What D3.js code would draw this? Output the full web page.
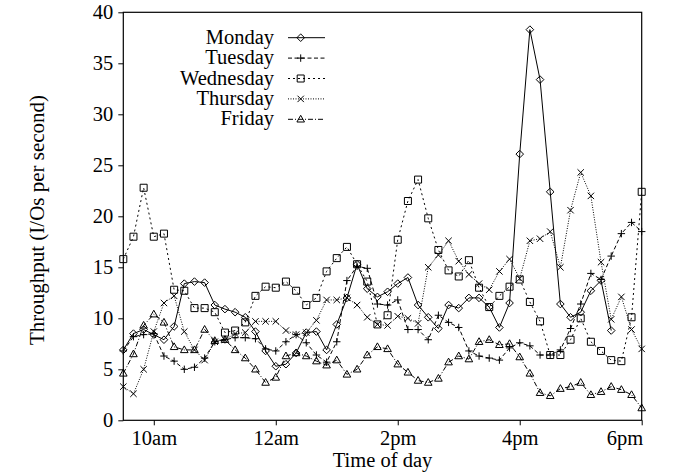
<!DOCTYPE html>
<html lang="en">
<head>
<meta charset="UTF-8"/>
<title>Throughput by time of day</title>
<script src="https://d3js.org/d3.v7.min.js"></script>
<style>
    body { margin: 0; background: #fff; }
    svg text { font-family: "Liberation Serif", "Times New Roman", serif; font-size: 20.5px; fill: #000; }
</style>
</head>
<body>
<script>
    // sample times, every 10 minutes
    var times = ["9:30","9:40","9:50","10:00","10:10","10:20","10:30","10:40","10:50",
        "11:00","11:10","11:20","11:30","11:40","11:50","12:00","12:10","12:20","12:30","12:40","12:50",
        "13:00","13:10","13:20","13:30","13:40","13:50","14:00","14:10","14:20","14:30","14:40","14:50",
        "15:00","15:10","15:20","15:30","15:40","15:50","16:00","16:10","16:20","16:30","16:40","16:50",
        "17:00","17:10","17:20","17:30","17:40","17:50","18:00"];

    var days = ["Monday", "Tuesday", "Wednesday", "Thursday", "Friday"];

    // I/Os per second
    var monday = [6.9,8.5,8.9,8.4,7.9,9.2,13.4,13.6,13.5,11.3,10.9,10.6,10.1,8.7,6.8,5.3,5.5,6.6,8.6,8.7,6.9,
        9.4,12.0,15.3,12.9,12.1,12.6,13.4,14.0,11.3,10.1,9.0,11.3,11.0,12.0,12.0,11.1,9.1,11.5,26.1,38.3,
        33.4,22.4,11.4,10.1,10.6,12.7,13.7,8.8];
    var tuesday = [6.8,8.2,8.4,8.5,6.3,5.8,5.0,5.2,6.1,7.7,7.9,8.1,8.1,8.0,7.0,6.8,7.7,8.4,7.6,6.4,5.7,
        7.7,13.7,15.1,14.9,11.4,11.3,11.8,8.9,8.9,7.9,10.3,9.6,9.1,6.8,6.3,6.1,5.9,7.1,7.6,7.3,
        6.4,6.4,6.9,9.0,11.4,14.4,13.8,16.1,18.3,19.4,18.5];
    var wednesday = [15.8,18.0,22.8,18.0,18.3,12.8,12.7,11.0,11.0,10.6,8.6,8.8,9.6,12.2,13.1,13.0,13.6,12.7,11.3,12.0,14.6,
        15.9,17.0,15.3,13.6,9.4,10.3,17.7,21.5,23.6,19.8,16.7,14.7,14.1,15.7,13.0,11.1,12.2,13.1,13.8,11.6,
        9.7,6.4,6.4,7.9,10.0,7.7,6.8,5.9,5.8,10.1,22.4];
    var thursday = [3.3,2.6,5.0,8.7,11.5,12.2,8.7,6.9,5.9,7.7,7.9,8.5,8.6,9.7,9.7,9.7,8.8,8.4,8.6,9.8,11.8,
        11.8,12.0,11.3,10.1,9.4,9.3,10.2,10.0,9.5,15.0,16.2,17.6,15.6,14.3,13.4,12.8,14.6,15.8,13.9,17.6,
        17.8,18.5,15.0,20.6,24.3,22.0,15.5,9.9,12.1,8.9,7.0];
    var friday = [4.6,6.5,9.3,10.4,9.6,7.2,6.9,6.9,8.9,7.8,7.9,6.9,6.1,5.0,3.7,4.2,6.3,6.6,6.3,5.8,5.4,
        5.9,4.5,5.0,6.4,7.2,7.0,5.5,4.7,3.9,3.7,4.1,5.7,6.3,6.0,7.7,7.9,7.4,7.5,6.2,4.6,
        2.7,2.4,3.1,3.3,3.7,2.5,2.8,3.3,3.0,2.5,1.2];

    var tickHours = [10, 12, 14, 16, 18];
    var tickLabels = ["10am", "12am", "2pm", "4pm", "6pm"];
    var yTicks = [0, 5, 10, 15, 20, 25, 30, 35, 40];

    var values = [monday, tuesday, wednesday, thursday, friday];
    var dashes = ["none", "4,2.5", "2,3", "1,1.5", "5,2,1,2"];
    var markers = ["diamond", "plus", "square", "cross", "triangle"];

    var w = 673, h = 474;
    var plotL = 123.3, plotR = 641.7, plotT = 12.3, plotB = 420.3;

    function hourOf(s) {
        var p = s.split(":");
        return +p[0] + p[1] / 60;
    }

    var xScale = d3.scaleLinear().domain([9.5, 18]).range([plotL, plotR]);
    var yScale = d3.scaleLinear().domain([0, 40]).range([plotB, plotT]);

    // marker shapes, drawn around (0,0)
    function markerPath(type) {
        if (type == "diamond") return "M0,-3.8L3.8,0L0,3.8L-3.8,0Z";
        if (type == "plus") return "M-3.7,0H3.7M0,-3.7V3.7";
        if (type == "square") return "M-3.5,-3.5H3.5V3.5H-3.5Z";
        if (type == "cross") return "M-3.2,-3.2L3.2,3.2M-3.2,3.2L3.2,-3.2";
        return "M0,-4L3.8,2.7H-3.8Z";
    }

    var svg = d3.select("body").append("svg")
        .attr("width", w)
        .attr("height", h);

    // axes
    var xAxis = d3.axisBottom(xScale)
        .tickValues(tickHours)
        .tickFormat(function (d, i) { return tickLabels[i]; })
        .tickSize(5)
        .tickPadding(5);
    var yAxis = d3.axisLeft(yScale)
        .tickValues(yTicks)
        .tickSize(5)
        .tickPadding(5);

    var gx = svg.append("g").attr("transform", "translate(0," + plotB + ")").call(xAxis);
    var gy = svg.append("g").attr("transform", "translate(" + plotL + ",0)").call(yAxis);
    [gx, gy].forEach(function (g) {
        g.select(".domain").remove();
        g.attr("font-size", null).attr("font-family", null);
        g.selectAll("line").attr("stroke", "#000");
    });
    // last label sits inside the right edge
    gx.selectAll(".tick text").filter(function (d) { return d == 18; })
        .attr("text-anchor", "end")
        .attr("x", 1);

    // frame
    svg.append("rect")
        .attr("x", plotL).attr("y", plotT)
        .attr("width", plotR - plotL).attr("height", plotB - plotT)
        .attr("fill", "none").attr("stroke", "#000").attr("stroke-width", 1.2);

    // axis titles
    svg.append("text")
        .attr("x", (plotL + plotR) / 2).attr("y", 467)
        .attr("text-anchor", "middle")
        .text("Time of day");
    svg.append("text")
        .attr("transform", "translate(44," + 220 + ") rotate(-90)")
        .attr("text-anchor", "middle")
        .attr("font-size", "21px")
        .style("font-size", "21px")
        .text("Throughput (I/Os per second)");

    var line = d3.line()
        .x(function (d) { return xScale(d[0]); })
        .y(function (d) { return yScale(d[1]); });

    // series
    values.forEach(function (vals, k) {
        var pts = vals.map(function (v, i) { return [hourOf(times[i]), v]; });
        svg.append("path")
            .attr("d", line(pts))
            .attr("fill", "none")
            .attr("stroke", "#000")
            .attr("stroke-width", 1)
            .attr("stroke-dasharray", dashes[k]);
        svg.selectAll(".m" + k)
            .data(pts)
            .enter()
            .append("path")
            .attr("class", "m" + k)
            .attr("d", markerPath(markers[k]))
            .attr("transform", function (d) {
                return "translate(" + xScale(d[0]) + "," + yScale(d[1]) + ")";
            })
            .attr("fill", "none")
            .attr("stroke", "#000")
            .attr("stroke-width", 1);
    });

    // legend
    var legend = svg.append("g");
    days.forEach(function (name, k) {
        var cy = 37.7 + k * 20.4;
        legend.append("text")
            .attr("x", 274).attr("y", cy + 6)
            .attr("text-anchor", "end")
            .text(name);
        legend.append("line")
            .attr("x1", 288).attr("x2", 325)
            .attr("y1", cy).attr("y2", cy)
            .attr("stroke", "#000")
            .attr("stroke-width", 1)
            .attr("stroke-dasharray", dashes[k]);
        legend.append("path")
            .attr("d", markerPath(markers[k]))
            .attr("transform", "translate(300.7," + cy + ")")
            .attr("fill", "none")
            .attr("stroke", "#000");
    });
</script>
</body>
</html>
